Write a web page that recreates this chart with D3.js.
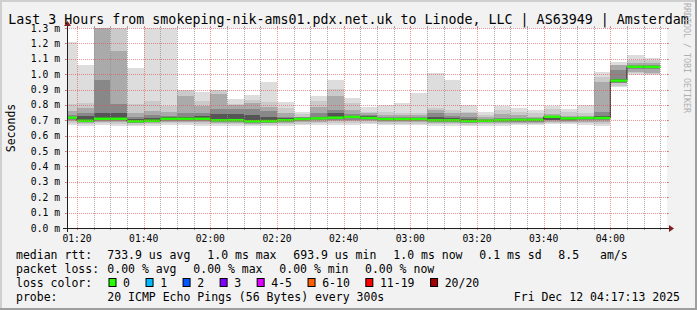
<!DOCTYPE html>
<html>
<head>
<meta charset="utf-8">
<script src="https://cdn.jsdelivr.net/npm/d3@7/dist/d3.min.js"></script>
<style>
  body { margin: 0; background: #f2f2f2; }
  text { font-family: "DejaVu Sans Mono", monospace; fill: #000; }
</style>
</head>
<body>
<div id="chart"></div>
<script>
// end time of each 5 minute step (value covers the 5 minutes before it)
const slots = ["01:20","01:25","01:30","01:35","01:40","01:45","01:50","01:55","02:00","02:05","02:10","02:15",
  "02:20","02:25","02:30","02:35","02:40","02:45","02:50","02:55","03:00","03:05","03:10","03:15",
  "03:20","03:25","03:30","03:35","03:40","03:45","03:50","03:55","04:00","04:05","04:10","04:15"];

// median rtt per step, ms
const median = [0.717,0.697,0.710,0.710,0.694,0.697,0.710,0.710,0.710,0.700,0.701,0.694,
  0.695,0.701,0.708,0.713,0.717,0.722,0.715,0.708,0.708,0.708,0.700,0.700,
  0.695,0.697,0.701,0.703,0.703,0.723,0.712,0.715,0.715,0.958,1.048,1.047];

// sorted pings (rank out of 20), ms
const rtt20 = [1.209,1.059,1.700,1.550,1.042,1.450,1.400,0.899,0.884,0.899,0.838,0.864,
  0.949,0.819,0.754,0.858,0.962,0.845,0.789,0.800,0.812,0.877,1.007,0.962,
  0.800,0.754,0.793,0.780,0.767,0.793,0.773,0.800,1.014,1.079,1.124,1.105];
const rtt19 = [0.804,0.810,1.500,1.400,0.804,0.825,0.793,0.897,0.825,0.896,0.806,0.832,
  0.821,0.778,0.739,0.828,0.901,0.810,0.756,0.756,0.750,0.750,0.778,0.767,
  0.756,0.734,0.767,0.756,0.745,0.771,0.756,0.745,0.984,1.062,1.092,1.092];
const rtt17 = [0.760,0.782,1.350,1.150,0.745,0.760,0.754,0.858,0.793,0.869,0.800,0.810,
  0.789,0.745,0.724,0.789,0.858,0.767,0.750,0.734,0.732,0.732,0.770,0.745,
  0.745,0.719,0.741,0.734,0.724,0.741,0.730,0.728,0.951,1.059,1.070,1.070];
const rtt15 = [0.732,0.745,0.962,0.804,0.724,0.732,0.728,0.745,0.745,0.771,0.771,0.771,
  0.760,0.724,0.720,0.750,0.770,0.739,0.734,0.722,0.722,0.720,0.745,0.728,
  0.724,0.710,0.715,0.713,0.713,0.730,0.720,0.720,0.756,1.027,1.059,1.059];
const rtt13 = [0.724,0.725,0.745,0.745,0.710,0.718,0.720,0.724,0.726,0.739,0.739,0.732,
  0.724,0.712,0.716,0.724,0.745,0.730,0.726,0.716,0.716,0.715,0.719,0.715,
  0.710,0.705,0.708,0.708,0.708,0.727,0.716,0.718,0.728,0.966,1.052,1.052];
const rtt8 = [0.710,0.690,0.703,0.703,0.688,0.690,0.703,0.704,0.703,0.694,0.695,0.688,
  0.689,0.695,0.701,0.706,0.709,0.713,0.708,0.701,0.701,0.701,0.693,0.694,
  0.689,0.691,0.694,0.696,0.696,0.705,0.704,0.707,0.706,0.950,1.038,1.038];
const rtt6 = [0.704,0.686,0.697,0.697,0.684,0.686,0.697,0.698,0.697,0.689,0.690,0.684,
  0.685,0.690,0.695,0.699,0.702,0.705,0.701,0.695,0.695,0.695,0.688,0.689,
  0.685,0.686,0.689,0.690,0.690,0.700,0.698,0.700,0.699,0.945,1.031,1.031];
const rtt4 = [0.696,0.681,0.690,0.690,0.680,0.681,0.690,0.691,0.690,0.683,0.684,0.679,
  0.680,0.684,0.688,0.691,0.693,0.695,0.693,0.688,0.688,0.688,0.682,0.683,
  0.680,0.681,0.683,0.684,0.684,0.692,0.690,0.692,0.690,0.940,1.016,1.010];
const rtt2 = [0.684,0.674,0.680,0.679,0.672,0.673,0.680,0.680,0.679,0.675,0.676,0.671,
  0.672,0.675,0.678,0.680,0.681,0.683,0.682,0.678,0.678,0.677,0.673,0.674,
  0.672,0.673,0.674,0.675,0.675,0.681,0.680,0.680,0.678,0.925,1.005,1.000];
const rtt1 = [0.672,0.665,0.668,0.666,0.664,0.664,0.668,0.667,0.666,0.665,0.666,0.663,
  0.664,0.666,0.668,0.669,0.670,0.672,0.674,0.668,0.668,0.667,0.663,0.665,
  0.664,0.666,0.666,0.667,0.667,0.675,0.673,0.668,0.663,0.914,0.994,0.994];

const title = "Last 3 Hours from smokeping-nik-ams01.pdx.net.uk to Linode, LLC | AS63949 | Amsterdam";
const lossLabels = ["0","1","2","3","4-5","6-10","11-19","20/20"];
const lossColors = ["#26ff00","#00b8ff","#0059ff","#7e00ff","#dd00ff","#ff5e00","#ff0000","#a10000"];

const width = 697, height = 310;
const pLeft = 67, pRight = 667, pTop = 28, pBottom = 228;

const parse = d3.utcParse("%H:%M");
const x = d3.scaleUtc().domain([parse("01:17"), parse("04:17")]).range([pLeft, pRight]);
const y = d3.scaleLinear().domain([0, 1.3]).range([pBottom, pTop]);

const svg = d3.select("#chart").append("svg")
  .attr("width", width).attr("height", height)
  .attr("viewBox", [0, 0, width, height]);

// frame with rrdtool style shading
svg.append("rect").attr("width", width).attr("height", height).attr("fill", "#f2f2f2");
svg.append("path").attr("fill", "#cfcfcf")
  .attr("d", `M0,0H${width}V2H2V${height}H0Z`);
svg.append("path").attr("fill", "#9e9e9e")
  .attr("d", `M${width},${height}H0V${height - 2}H${width - 2}V0H${width}Z`);

svg.append("rect").attr("x", pLeft).attr("y", pTop)
  .attr("width", pRight - pLeft).attr("height", pBottom - pTop).attr("fill", "#fff");

svg.append("clipPath").attr("id", "plot")
  .append("rect").attr("x", pLeft).attr("y", pTop)
  .attr("width", pRight - pLeft).attr("height", pBottom - pTop);

const steps = slots.map((s, i) => ({ end: parse(s), start: d3.utcMinute.offset(parse(s), -5), i }));

const plot = svg.append("g").attr("clip-path", "url(#plot)");

// smoke: pairs of pings, darker towards the median
const bands = [
  [rtt1, rtt20, "#dddddd"],
  [rtt2, rtt19, "#cacaca"],
  [rtt4, rtt17, "#aaaaaa"],
  [rtt6, rtt15, "#888888"],
  [rtt8, rtt13, "#555555"],
];
for (const [lo, hi, color] of bands) {
  plot.append("g").attr("fill", color).attr("shape-rendering", "crispEdges")
    .selectAll("rect").data(steps).join("rect")
    .attr("x", (d) => x(d.start))
    .attr("width", (d) => x(d.end) - x(d.start))
    .attr("y", (d) => y(hi[d.i]))
    .attr("height", (d) => y(lo[d.i]) - y(hi[d.i]));
}

// median line
const line = d3.line().x((d) => d[0]).y((d) => d[1]);
plot.append("path")
  .attr("fill", "none").attr("stroke", "#202020").attr("stroke-width", 1)
  .attr("d", line(steps.flatMap((d) => [[x(d.start), y(median[d.i])], [x(d.end), y(median[d.i])]])));

plot.append("g").attr("fill", lossColors[0])
  .selectAll("rect").data(steps).join("rect")
  .attr("x", (d) => x(d.start))
  .attr("width", (d) => x(d.end) - x(d.start))
  .attr("y", (d) => y(median[d.i]) - 1.2)
  .attr("height", 2.4);

// grid
const gridMinor = "rgba(143,143,143,0.75)";
const gridMajor = "rgba(222,79,79,0.6)";
const grid = svg.append("g").attr("stroke-width", 1);
const major = x.ticks(d3.utcMinute.every(20));
const minor = x.ticks(d3.utcMinute.every(5)).filter((t) => t.getUTCMinutes() % 20 !== 0);
const vline = (t, color) => {
  const px = Math.round(x(t)) + 0.5;
  grid.append("line").attr("x1", px).attr("x2", px).attr("y1", pBottom + 2).attr("y2", pTop - 2)
    .attr("stroke", color).attr("stroke-dasharray", "1,1");
  grid.append("line").attr("x1", px).attr("x2", px).attr("y1", pBottom).attr("y2", pBottom + 2).attr("stroke", color);
  grid.append("line").attr("x1", px).attr("x2", px).attr("y1", pTop - 2).attr("y2", pTop).attr("stroke", color);
};
minor.forEach((t) => vline(t, gridMinor));
major.forEach((t) => vline(t, gridMajor));

const yt = y.ticks(13);
yt.filter((v) => v > 0).forEach((v) => {
  const py = Math.round(y(v)) + 0.5;
  grid.append("line").attr("x1", pLeft - 2).attr("x2", pRight + 2).attr("y1", py).attr("y2", py)
    .attr("stroke", gridMajor).attr("stroke-dasharray", "1,1");
  grid.append("line").attr("x1", pLeft - 2).attr("x2", pLeft).attr("y1", py).attr("y2", py).attr("stroke", gridMajor);
  grid.append("line").attr("x1", pRight).attr("x2", pRight + 2).attr("y1", py).attr("y2", py).attr("stroke", gridMajor);
});

// axes
const axis = svg.append("g").attr("stroke", "#1f1f1f").attr("stroke-width", 1);
axis.append("line").attr("x1", pLeft - 4).attr("x2", pRight + 4).attr("y1", pBottom + 0.5).attr("y2", pBottom + 0.5);
axis.append("line").attr("x1", pLeft + 0.5).attr("x2", pLeft + 0.5).attr("y1", pBottom + 4).attr("y2", pTop - 4);
svg.append("path").attr("fill", "#801f1f")
  .attr("d", `M${pRight + 2},${pBottom - 3}L${pRight + 2},${pBottom + 4}L${pRight + 7},${pBottom + 0.5}Z`);
svg.append("path").attr("fill", "#801f1f")
  .attr("d", `M${pLeft - 3},${pTop - 2}L${pLeft + 4},${pTop - 2}L${pLeft + 0.5},${pTop - 7}Z`);

// tick labels
svg.append("g").selectAll("text").data(yt).join("text")
  .attr("x", 60).attr("y", (v) => y(v) + 3.5)
  .attr("text-anchor", "end").attr("font-size", 9.7)
  .text((v) => d3.format(".1f")(v) + " m");

svg.append("g").selectAll("text").data(major).join("text")
  .attr("x", (t) => x(t)).attr("y", 241.5)
  .attr("text-anchor", "middle").attr("font-size", 9.7)
  .text(d3.utcFormat("%H:%M"));

svg.append("text").attr("transform", "translate(15,128) rotate(-90)")
  .attr("text-anchor", "middle").attr("font-size", 11.5).text("Seconds");

svg.append("text").attr("x", 348.5).attr("y", 23.5).attr("text-anchor", "middle")
  .attr("font-size", 13.3).text(title);

svg.append("text").attr("transform", "translate(684,3) rotate(90)")
  .attr("font-size", 8.3).style("fill", "#b0b0b0").text("RRDTOOL / TOBI OETIKER");

// legend
const leg = svg.append("g").attr("font-size", 11.5);
const put = (tx, ty, s) => leg.append("text").attr("x", tx).attr("y", ty).text(s);
put(16, 258.5, "median rtt:");
put(107.3, 258.5, "733.9 us avg");
put(207.3, 258.5, "1.0 ms max");
put(293.3, 258.5, "693.9 us min");
put(393.3, 258.5, "1.0 ms now");
put(479.3, 258.5, "0.1 ms sd");
put(558.3, 258.5, "8.5");
put(600, 258.5, "am/s");
put(16, 272.5, "packet loss:");
put(107.3, 272.5, "0.00 % avg");
put(193.3, 272.5, "0.00 % max");
put(279.3, 272.5, "0.00 % min");
put(365, 272.5, "0.00 % now");
put(16, 286.5, "loss color:");
let bx = 108.5;
lossLabels.forEach((lab, k) => {
  leg.append("rect").attr("x", bx + 0.5).attr("y", 278.5).attr("width", 7).attr("height", 8)
    .attr("fill", lossColors[k]).attr("stroke", "#000").attr("stroke-width", 1);
  const t = put(bx + 14.6, 286.5, lab);
  bx = bx + 14.6 + t.node().getComputedTextLength() + 15.5;
});
put(16, 300.5, "probe:");
put(107.3, 300.5, "20 ICMP Echo Pings (56 Bytes) every 300s");
put(680, 300.5, "Fri Dec 12 04:17:13 2025").attr("text-anchor", "end");
</script>
</body>
</html>
